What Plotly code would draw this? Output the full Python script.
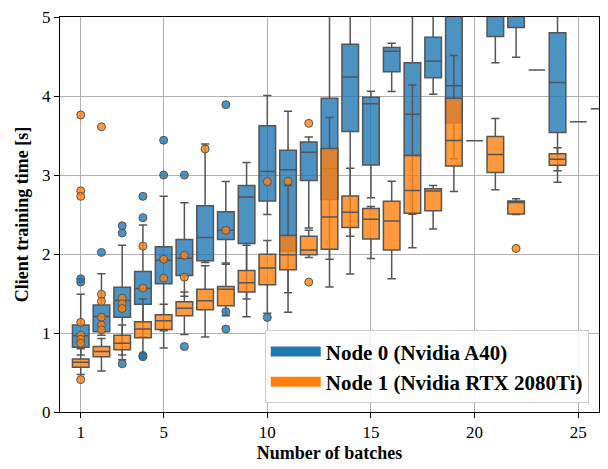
import plotly.graph_objects as go

# ---------------- data ----------------
# Node 0 (Nvidia A40) box statistics per number of batches
n0_batches = [1, 2, 3, 4, 5, 6, 7, 8, 9, 10, 11, 12, 13, 14, 15, 16, 17, 18, 19, 21, 22, 23, 24, 25, 26]
n0_q1 = [0.82, 1.015, 1.20, 1.363, 1.624, 1.728, 1.914, 2.183, 2.133, 2.672, 2.038, 2.929, 2.689, 3.55, 3.128, 4.308, 3.248, 4.23, 3.662, 4.752, 4.868, 4.329, 3.538, 3.675, 3.84]
n0_median = [0.965, 1.21, 1.41, 1.562, 1.922, 1.947, 2.208, 2.30, 2.722, 3.045, 3.066, 3.289, 3.078, 4.242, 3.903, 4.566, 3.77, 4.441, 4.13, 5.2, 5.1, 4.329, 4.172, 3.675, 3.84]
n0_q3 = [1.10, 1.355, 1.578, 1.777, 2.092, 2.183, 2.61, 2.536, 2.866, 3.625, 3.314, 3.418, 3.973, 4.656, 3.985, 4.615, 4.42, 4.744, 5.4, 5.5, 5.4, 4.329, 4.802, 3.675, 3.84]
n0_low = [0.72, 0.97, 0.72, 0.95, 0.81, 1.466, 1.893, 1.885, 1.43, 2.50, 1.263, 2.328, 1.934, 2.225, 2.713, 4.056, 2.502, 4.022, 3.207, 4.42, 4.49, 4.329, 3.053, 3.675, 3.84]
n0_high = [1.49, 1.75, 2.11, 2.366, 2.73, 2.648, 3.393, 2.917, 3.157, 4.006, 3.807, 3.48, 5.5, 5.6, 4.06, 4.669, 5.4, 5.3, 6.0, 5.8, 5.7, 4.329, 5.5, 3.675, 3.84]

# Node 1 (Nvidia RTX 2080Ti) box statistics
n1_batches = [1, 2, 3, 4, 5, 6, 7, 8, 9, 10, 11, 12, 13, 14, 15, 16, 17, 18, 19, 20, 21, 22, 24]
n1_q1 = [0.567, 0.70, 0.787, 0.94, 1.044, 1.218, 1.293, 1.346, 1.52, 1.611, 1.802, 1.989, 2.059, 2.337, 2.191, 2.051, 2.515, 2.548, 3.115, 3.434, 3.033, 2.506, 3.124]
n1_median = [0.629, 0.766, 0.87, 1.05, 1.156, 1.313, 1.408, 1.553, 1.636, 1.822, 1.989, 2.051, 2.469, 2.527, 2.44, 2.419, 2.805, 2.797, 3.438, 3.434, 3.26, 2.651, 3.198]
n1_q3 = [0.671, 0.828, 0.973, 1.143, 1.23, 1.396, 1.553, 1.59, 1.79, 1.996, 2.233, 2.225, 3.335, 2.734, 2.577, 2.668, 3.248, 2.825, 3.973, 3.434, 3.488, 2.672, 3.269]
n1_low = [0.476, 0.52, 0.66, 0.68, 1.03, 0.98, 0.948, 1.218, 1.205, 1.25, 1.508, 1.955, 1.582, 1.748, 1.943, 1.686, 2.08, 2.316, 2.792, 3.434, 2.813, 2.50, 2.909]
n1_high = [0.80, 0.93, 1.10, 1.43, 1.363, 1.52, 1.85, 1.87, 2.11, 2.17, 2.866, 2.30, 3.729, 3.086, 2.60, 2.921, 4.139, 2.866, 4.512, 3.434, 3.716, 2.70, 3.344]

# Outliers
n0_out_x = [1, 1, 2, 3, 3, 3, 4, 4, 4, 4, 5, 5, 6, 6, 8, 8, 8, 10]
n0_out_y = [1.686, 1.645, 2.02, 2.357, 2.266, 0.61, 2.73, 2.46, 0.716, 0.70, 3.44, 3.00, 3.00, 0.828, 3.89, 1.27, 1.05, 1.197]
n1_out_x = [1, 1, 1, 1, 1, 1, 1, 1, 2, 2, 2, 2, 2, 2, 3, 3, 3, 4, 4, 5, 5, 6, 6, 7, 8, 10, 11, 12, 12, 22]
n1_out_y = [3.76, 2.80, 2.73, 1.135, 0.97, 0.92, 0.87, 0.41, 3.61, 1.49, 1.40, 1.20, 1.10, 1.04, 1.44, 1.37, 1.31, 2.10, 1.57, 1.934, 1.694, 1.984, 1.707, 3.33, 2.30, 2.916, 2.92, 3.654, 1.644, 2.071]

series_names = ["Node 0 (Nvidia A40)", "Node 1 (Nvidia RTX 2080Ti)"]
x_ticks = [1, 5, 10, 15, 20, 25]
y_ticks = [0, 1, 2, 3, 4, 5]

# ---------------- styling ----------------
BLUE = "#1f77b4"
ORANGE = "#ff7f0e"
BLUE_FILL = "rgba(31,119,180,0.8)"
ORANGE_FILL = "rgba(255,127,14,0.8)"
EDGE = "#555555"
FONT = "Liberation Serif, Times New Roman, Times, serif"

fig = go.Figure()

for bx, q1, med, q3, lo, hi, fill in [
    (n0_batches, n0_q1, n0_median, n0_q3, n0_low, n0_high, BLUE_FILL),
    (n1_batches, n1_q1, n1_median, n1_q3, n1_low, n1_high, ORANGE_FILL),
]:
    fig.add_trace(go.Box(
        x=bx, q1=q1, median=med, q3=q3, lowerfence=lo, upperfence=hi,
        boxpoints=False, fillcolor=fill, line=dict(color=EDGE, width=1.5),
        whiskerwidth=0.5, width=0.8, showlegend=False, hoverinfo="skip",
    ))

for ox, oy, fill in [(n0_out_x, n0_out_y, BLUE_FILL), (n1_out_x, n1_out_y, ORANGE_FILL)]:
    fig.add_trace(go.Scatter(
        x=ox, y=oy, mode="markers",
        marker=dict(size=8, color=fill, line=dict(color=EDGE, width=1)),
        showlegend=False, hoverinfo="skip", cliponaxis=True,
    ))

for name, col in zip(series_names, [BLUE, ORANGE]):
    fig.add_trace(go.Scatter(
        x=[None], y=[None], mode="lines", name=name,
        line=dict(color=col, width=16),
    ))

fig.update_layout(
    width=608, height=469,
    margin=dict(l=60, r=8, t=10, b=57),
    paper_bgcolor="white", plot_bgcolor="white",
    boxmode="overlay",
    font=dict(family=FONT, size=16, color="black"),
    legend=dict(
        x=0.981, y=0.022, xanchor="right", yanchor="bottom",
        bgcolor="rgba(255,255,255,0.85)", bordercolor="#cccccc", borderwidth=1,
        font=dict(family=FONT, size=21, weight="bold"),
        tracegroupgap=0, itemwidth=50,
    ),
)

fig.update_xaxes(
    range=[0, 26], tickvals=x_ticks, ticktext=[str(t) for t in x_ticks],
    showgrid=True, gridcolor="#b0b0b0", gridwidth=1, zeroline=False,
    showline=True, linecolor="black", linewidth=1, mirror=True,
    ticks="outside", ticklen=5, tickcolor="black",
    tickfont=dict(family=FONT, size=17),
    title=dict(text="Number of batches", font=dict(family=FONT, size=18, weight="bold"), standoff=4),
)
fig.update_yaxes(
    range=[0, 5], tickvals=y_ticks,
    showgrid=True, gridcolor="#b0b0b0", gridwidth=1, zeroline=False,
    showline=True, linecolor="black", linewidth=1, mirror=True,
    ticks="outside", ticklen=5, tickcolor="black",
    tickfont=dict(family=FONT, size=17),
    title=dict(text="Client training time [s]", font=dict(family=FONT, size=18, weight="bold"), standoff=8),
)

fig.write_html("out.html")
